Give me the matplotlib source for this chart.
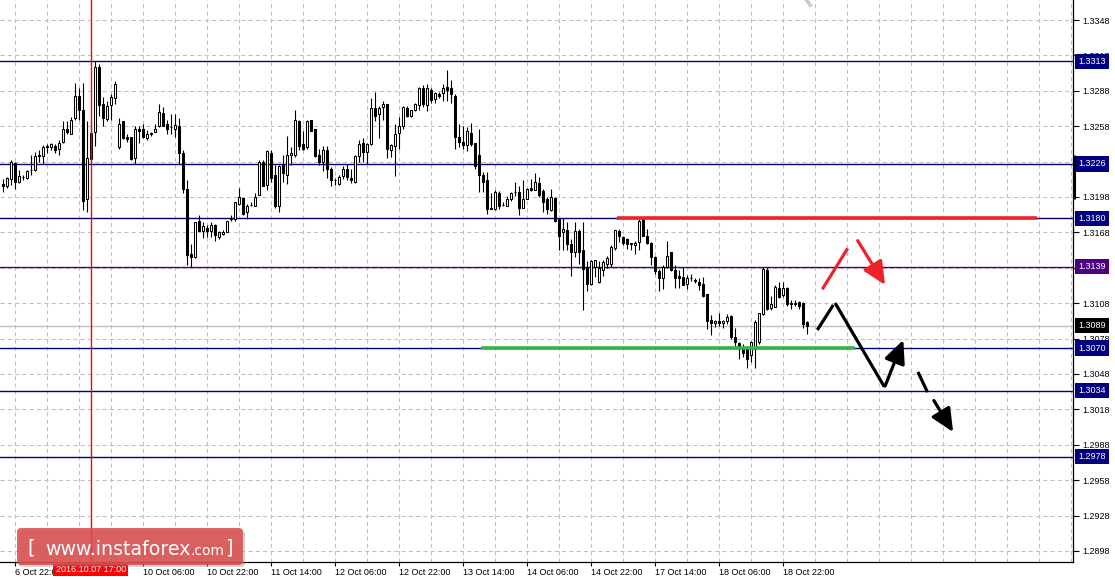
import matplotlib
matplotlib.use('Agg')
import matplotlib.pyplot as plt
import matplotlib.transforms as mtransforms
from matplotlib.patches import FancyBboxPatch, FancyArrowPatch
import numpy as np

# H1 candles, 6 Oct 19:00 .. 19 Oct 04:00
opens = [
    1.3209, 1.3207, 1.3213, 1.3227, 1.3211, 1.3215, 1.3214, 1.3221, 1.3221, 1.3234,
    1.3233, 1.3241, 1.3240, 1.3241, 1.3239, 1.3245, 1.3256, 1.3251, 1.3265, 1.3284,
    1.3272, 1.3196, 1.3230, 1.3253, 1.3308, 1.3277, 1.3264, 1.3276, 1.3282, 1.3240,
    1.3262, 1.3249, 1.3249, 1.3231, 1.3256, 1.3256, 1.3248, 1.3251, 1.3253, 1.3258,
    1.3269, 1.3260, 1.3257, 1.3256, 1.3258, 1.3235, 1.3205, 1.3150, 1.3147, 1.3178,
    1.3169, 1.3172, 1.3169, 1.3174, 1.3164, 1.3167, 1.3168, 1.3179, 1.3179, 1.3192,
    1.3197, 1.3185, 1.3191, 1.3190, 1.3200, 1.3228, 1.3208, 1.3235, 1.3217, 1.3190,
    1.3225, 1.3217, 1.3234, 1.3234, 1.3262, 1.3243, 1.3240, 1.3263, 1.3256, 1.3234,
    1.3228, 1.3238, 1.3222, 1.3212, 1.3209, 1.3216, 1.3222, 1.3214, 1.3211, 1.3233,
    1.3244, 1.3236, 1.3243, 1.3273, 1.3268, 1.3274, 1.3277, 1.3238, 1.3241, 1.3252,
    1.3258, 1.3273, 1.3267, 1.3272, 1.3276, 1.3290, 1.3276, 1.3289, 1.3281, 1.3285,
    1.3286, 1.3291, 1.3290, 1.3284, 1.3249, 1.3245, 1.3242, 1.3252, 1.3244, 1.3234,
    1.3217, 1.3212, 1.3189, 1.3188, 1.3201, 1.3191, 1.3190, 1.3196, 1.3202, 1.3202,
    1.3189, 1.3196, 1.3206, 1.3204, 1.3210, 1.3203, 1.3196, 1.3187, 1.3197, 1.3179,
    1.3168, 1.3170, 1.3158, 1.3151, 1.3169, 1.3153, 1.3139, 1.3124, 1.3139, 1.3126,
    1.3136, 1.3141, 1.3141, 1.3155, 1.3169, 1.3164, 1.3162, 1.3159, 1.3157, 1.3160,
    1.3180, 1.3165, 1.3159, 1.3147, 1.3135, 1.3129, 1.3139, 1.3151, 1.3136, 1.3131,
    1.3130, 1.3124, 1.3129, 1.3127, 1.3126, 1.3124, 1.3116, 1.3094, 1.3091, 1.3093,
    1.3091, 1.3093, 1.3097, 1.3079, 1.3074, 1.3071, 1.3069, 1.3064, 1.3069, 1.3075,
    1.3099, 1.3136, 1.3104, 1.3105, 1.3121, 1.3115, 1.3121, 1.3108, 1.3108, 1.3109,
    1.3108, 1.3092,
]
highs = [
    1.3213, 1.3215, 1.3229, 1.3228, 1.3221, 1.3217, 1.3221, 1.3234, 1.3236, 1.3238,
    1.3242, 1.3243, 1.3244, 1.3243, 1.3246, 1.3262, 1.3262, 1.3266, 1.3295, 1.3290,
    1.3295, 1.3262, 1.3262, 1.3313, 1.3311, 1.3283, 1.3279, 1.3285, 1.3296, 1.3265,
    1.3262, 1.3251, 1.3249, 1.3258, 1.3258, 1.3260, 1.3255, 1.3253, 1.3260, 1.3277,
    1.3274, 1.3263, 1.3268, 1.3268, 1.3265, 1.3238, 1.3212, 1.3158, 1.3177, 1.3183,
    1.3177, 1.3174, 1.3177, 1.3175, 1.3169, 1.3170, 1.3178, 1.3183, 1.3194, 1.3206,
    1.3197, 1.3192, 1.3194, 1.3201, 1.3229, 1.3229, 1.3238, 1.3238, 1.3225, 1.3225,
    1.3234, 1.3250, 1.3240, 1.3272, 1.3263, 1.3254, 1.3263, 1.3263, 1.3256, 1.3239,
    1.3241, 1.3241, 1.3223, 1.3214, 1.3217, 1.3224, 1.3226, 1.3222, 1.3234, 1.3246,
    1.3248, 1.3244, 1.3282, 1.3287, 1.3275, 1.3279, 1.3277, 1.3243, 1.3260, 1.3266,
    1.3275, 1.3275, 1.3272, 1.3278, 1.3291, 1.3293, 1.3294, 1.3290, 1.3287, 1.3287,
    1.3294, 1.3306, 1.3297, 1.3285, 1.3260, 1.3258, 1.3257, 1.3261, 1.3244, 1.3256,
    1.3219, 1.3219, 1.3201, 1.3204, 1.3203, 1.3194, 1.3199, 1.3202, 1.3211, 1.3207,
    1.3212, 1.3206, 1.3213, 1.3218, 1.3215, 1.3205, 1.3198, 1.3205, 1.3198, 1.3180,
    1.3180, 1.3177, 1.3162, 1.3177, 1.3171, 1.3177, 1.3144, 1.3145, 1.3145, 1.3144,
    1.3145, 1.3148, 1.3157, 1.3170, 1.3171, 1.3165, 1.3163, 1.3159, 1.3161, 1.3179,
    1.3181, 1.3171, 1.3160, 1.3148, 1.3137, 1.3140, 1.3161, 1.3151, 1.3140, 1.3136,
    1.3139, 1.3132, 1.3133, 1.3129, 1.3129, 1.3130, 1.3116, 1.3098, 1.3094, 1.3100,
    1.3094, 1.3099, 1.3098, 1.3087, 1.3075, 1.3073, 1.3070, 1.3076, 1.3094, 1.3100,
    1.3139, 1.3139, 1.3114, 1.3123, 1.3126, 1.3126, 1.3122, 1.3111, 1.3111, 1.3110,
    1.3109, 1.3093,
]
lows = [
    1.3202, 1.3206, 1.3208, 1.3205, 1.3210, 1.3212, 1.3213, 1.3217, 1.3220, 1.3228,
    1.3226, 1.3235, 1.3238, 1.3235, 1.3234, 1.3244, 1.3251, 1.3251, 1.3263, 1.3263,
    1.3187, 1.3185, 1.3225, 1.3241, 1.3267, 1.3258, 1.3262, 1.3263, 1.3277, 1.3239,
    1.3247, 1.3245, 1.3229, 1.3226, 1.3244, 1.3248, 1.3246, 1.3250, 1.3253, 1.3257,
    1.3258, 1.3251, 1.3251, 1.3249, 1.3226, 1.3201, 1.3140, 1.3139, 1.3146, 1.3169,
    1.3163, 1.3164, 1.3164, 1.3161, 1.3162, 1.3166, 1.3168, 1.3178, 1.3178, 1.3191,
    1.3183, 1.3179, 1.3190, 1.3190, 1.3200, 1.3207, 1.3204, 1.3211, 1.3189, 1.3185,
    1.3211, 1.3209, 1.3225, 1.3232, 1.3238, 1.3238, 1.3239, 1.3254, 1.3232, 1.3225,
    1.3220, 1.3214, 1.3207, 1.3208, 1.3208, 1.3213, 1.3212, 1.3210, 1.3210, 1.3228,
    1.3228, 1.3226, 1.3242, 1.3262, 1.3248, 1.3263, 1.3231, 1.3232, 1.3216, 1.3239,
    1.3256, 1.3266, 1.3266, 1.3271, 1.3272, 1.3274, 1.3271, 1.3278, 1.3278, 1.3282,
    1.3279, 1.3279, 1.3278, 1.3239, 1.3240, 1.3239, 1.3237, 1.3241, 1.3222, 1.3202,
    1.3202, 1.3184, 1.3188, 1.3187, 1.3188, 1.3190, 1.3190, 1.3195, 1.3199, 1.3183,
    1.3189, 1.3196, 1.3203, 1.3204, 1.3198, 1.3185, 1.3184, 1.3186, 1.3177, 1.3153,
    1.3153, 1.3153, 1.3131, 1.3147, 1.3141, 1.3102, 1.3118, 1.3123, 1.3130, 1.3125,
    1.3131, 1.3138, 1.3139, 1.3153, 1.3160, 1.3157, 1.3154, 1.3153, 1.3150, 1.3153,
    1.3165, 1.3158, 1.3140, 1.3133, 1.3118, 1.3120, 1.3138, 1.3135, 1.3121, 1.3121,
    1.3123, 1.3120, 1.3127, 1.3125, 1.3119, 1.3113, 1.3086, 1.3081, 1.3088, 1.3089,
    1.3087, 1.3090, 1.3078, 1.3072, 1.3061, 1.3062, 1.3053, 1.3058, 1.3053, 1.3073,
    1.3098, 1.3102, 1.3102, 1.3105, 1.3112, 1.3113, 1.3106, 1.3103, 1.3106, 1.3103,
    1.3087, 1.3082,
]
closes = [
    1.3207, 1.3214, 1.3228, 1.3211, 1.3216, 1.3215, 1.3220, 1.3221, 1.3233, 1.3233,
    1.3240, 1.3240, 1.3243, 1.3238, 1.3244, 1.3256, 1.3253, 1.3263, 1.3284, 1.3272,
    1.3195, 1.3231, 1.3252, 1.3308, 1.3276, 1.3265, 1.3275, 1.3283, 1.3294, 1.3260,
    1.3248, 1.3247, 1.3230, 1.3256, 1.3254, 1.3249, 1.3251, 1.3252, 1.3256, 1.3270,
    1.3258, 1.3256, 1.3257, 1.3259, 1.3235, 1.3205, 1.3149, 1.3147, 1.3177, 1.3169,
    1.3173, 1.3169, 1.3174, 1.3166, 1.3168, 1.3168, 1.3178, 1.3180, 1.3194, 1.3198,
    1.3184, 1.3190, 1.3191, 1.3198, 1.3228, 1.3207, 1.3237, 1.3214, 1.3190, 1.3224,
    1.3218, 1.3234, 1.3235, 1.3263, 1.3241, 1.3239, 1.3262, 1.3254, 1.3233, 1.3228,
    1.3238, 1.3222, 1.3212, 1.3212, 1.3215, 1.3222, 1.3215, 1.3212, 1.3233, 1.3243,
    1.3236, 1.3243, 1.3273, 1.3267, 1.3273, 1.3277, 1.3239, 1.3242, 1.3251, 1.3258,
    1.3274, 1.3267, 1.3272, 1.3277, 1.3290, 1.3277, 1.3290, 1.3280, 1.3286, 1.3284,
    1.3290, 1.3289, 1.3285, 1.3249, 1.3245, 1.3242, 1.3254, 1.3243, 1.3224, 1.3217,
    1.3211, 1.3188, 1.3188, 1.3202, 1.3190, 1.3191, 1.3196, 1.3201, 1.3202, 1.3189,
    1.3196, 1.3205, 1.3204, 1.3211, 1.3200, 1.3194, 1.3188, 1.3198, 1.3178, 1.3165,
    1.3171, 1.3158, 1.3151, 1.3169, 1.3151, 1.3137, 1.3124, 1.3144, 1.3145, 1.3138,
    1.3143, 1.3146, 1.3156, 1.3170, 1.3165, 1.3159, 1.3158, 1.3158, 1.3159, 1.3178,
    1.3165, 1.3159, 1.3147, 1.3135, 1.3129, 1.3139, 1.3148, 1.3136, 1.3129, 1.3129,
    1.3123, 1.3129, 1.3129, 1.3127, 1.3123, 1.3114, 1.3093, 1.3091, 1.3093, 1.3091,
    1.3093, 1.3096, 1.3079, 1.3075, 1.3071, 1.3066, 1.3061, 1.3075, 1.3092, 1.3100,
    1.3137, 1.3103, 1.3107, 1.3122, 1.3113, 1.3121, 1.3107, 1.3107, 1.3107, 1.3106,
    1.3090, 1.3089,
]

# time axis labels (candle index -> label); 7 Oct 14:00 sits under the cursor box
time_ticks = [3, 35, 51, 67, 83, 99, 115, 131, 147, 163, 179, 195]
time_labels = ['6 Oct 22:00', '10 Oct 06:00', '10 Oct 22:00', '11 Oct 14:00',
               '12 Oct 06:00', '12 Oct 22:00', '13 Oct 14:00', '14 Oct 06:00', '14 Oct 22:00',
               '17 Oct 14:00', '18 Oct 06:00', '18 Oct 22:00']
grid_bars = [3 + 8 * k for k in range(34)]
cursor_bar = 22
cursor_label = '2016.10.07 17:00'

# price scale (1.3228 and 1.3138 are hidden behind level boxes)
price_ticks = [1.2898, 1.2928, 1.2958, 1.2988, 1.3018, 1.3048, 1.3078, 1.3108,
               1.3138, 1.3168, 1.3198, 1.3228, 1.3258, 1.3288, 1.3318, 1.3348]
hidden_ticks = [1.3138, 1.3228]

# horizontal levels
levels = [1.3313, 1.3226, 1.3180, 1.3139, 1.3089, 1.3070, 1.3034, 1.2978]
level_line_colors = ['#000080', '#000080', '#000070', '#4B0082', '#C0C0C0', '#000080', '#000080', '#000080']
level_box_colors = ['#000080', '#000080', '#000080', '#4B0082', '#000000', '#000080', '#000080', '#000080']

# resistance / support segments (start bar, end bar, price)
resistance = (153.6, 258.6, 1.3180)
support = (119.6, 213.1, 1.3070)

# forecast paths (bar index, price)
red_up = [(204.9, 1.31198), (211.25, 1.31545)]
red_down = [(213.75, 1.31610), (220.6, 1.31234)]
black_up = [(203.65, 1.30853), (207.65, 1.31065)]
black_down = [(208.1, 1.31082), (220.4, 1.30372)]
black_rebound = [(220.6, 1.30378), (225.15, 1.30768)]
black_dash1 = [(228.8, 1.30497), (231.2, 1.30326)]
black_dash2 = [(232.8, 1.30255), (237.6, 1.29988)]

W, H = 1115, 579
fig = plt.figure(figsize=(W / 100, H / 100), dpi=100)
ax = fig.add_axes([0, 17 / H, 1073 / W, 562 / H])
ax.set_xlim(-0.675, 267.575)
ax.set_ylim(1.288867, 1.336495)

font = 'Liberation Sans'
fs = 6.5

# grid
for gx in grid_bars:
    ax.axvline(gx, color='#C0C0C0', lw=0.75, dashes=(4, 3), zorder=0)
for gy in price_ticks:
    ax.axhline(gy, color='#C0C0C0', lw=0.75, dashes=(4, 3), zorder=0)

# levels
for lv, c in zip(levels, level_line_colors):
    ax.axhline(lv, color=c, lw=1.0, zorder=1, snap=True)

# candles
o = np.array(opens)
h = np.array(highs)
l = np.array(lows)
c = np.array(closes)
x = np.arange(len(o))
ax.vlines(x, l, h, color='black', lw=0.8, zorder=3)
bottoms = np.minimum(o, c)
heights = np.maximum(np.abs(c - o), 0.00003)
body_colors = ['white' if cc >= oo else 'black' for oo, cc in zip(o, c)]
ax.bar(x, heights, width=0.55, bottom=bottoms, color=body_colors,
       edgecolor='black', linewidth=0.75, zorder=4)

# cursor line
ax.axvline(cursor_bar, color='#FF0000', lw=1.0, zorder=5, snap=True)

# resistance and support
ax.plot(resistance[:2], [resistance[2]] * 2, color='#E8262B', lw=2.6,
        solid_capstyle='butt', zorder=6)
ax.plot(support[:2], [support[2]] * 2, color='#35B34A', lw=2.6,
        solid_capstyle='butt', zorder=6)

# forecast arrows
def seg(path, color):
    xs, ys = zip(*path)
    ax.plot(xs, ys, color=color, lw=2.3, solid_capstyle='butt', zorder=7)

def arrow(path, color):
    p = FancyArrowPatch(path[0], path[1], arrowstyle='-|>,head_length=1.4,head_width=0.65',
                        mutation_scale=10, lw=2.3, color=color, shrinkA=0, shrinkB=0, zorder=7)
    ax.add_patch(p)

seg(red_up, '#EE2229')
arrow(red_down, '#EE2229')
seg(black_up, 'black')
seg(black_down, 'black')
arrow(black_rebound, 'black')
seg(black_dash1, 'black')
arrow(black_dash2, 'black')

# small grey object cut at the top edge
ax.plot([200.9, 201.9], [1.33652, 1.33605], color='#C8C8C8', lw=2.5, zorder=2)

# axes styling
for s in ['left', 'top']:
    ax.spines[s].set_visible(False)
for s in ['right', 'bottom']:
    ax.spines[s].set_color('black')
    ax.spines[s].set_linewidth(0.9)

ax.yaxis.tick_right()
ax.set_yticks(price_ticks)
ax.set_yticklabels(['' if t in hidden_ticks else '%.4f' % t for t in price_ticks],
                   fontsize=fs, family=font)
ax.tick_params(axis='y', length=4, width=0.8, pad=2.5, colors='black')
ax.set_xticks(time_ticks)
ax.set_xticklabels(time_labels, fontsize=fs, family=font, ha='left')
ax.tick_params(axis='x', length=3, width=0.8, pad=1, colors='black')

ymix = mtransforms.blended_transform_factory(ax.transAxes, ax.transData)
for lv, bc in zip(levels, level_box_colors):
    ax.text(1.0 + 5 / 1073, lv, '%.4f' % lv, transform=ymix, ha='left', va='center',
            color='white', fontsize=fs, family=font, zorder=10, clip_on=False,
            bbox=dict(boxstyle='square,pad=0.35', fc=bc, ec='none'))

# price scale marker
ax.plot([1.0 + 1 / 1073] * 2, [1.3234, 1.3196], transform=ymix, color='black', lw=2.2,
        clip_on=False, zorder=10, solid_capstyle='butt')

xmix = mtransforms.blended_transform_factory(ax.transData, ax.transAxes)
ax.text(cursor_bar, -7 / 562, cursor_label, transform=xmix, ha='center', va='center',
        color='white', fontsize=fs, family=font, zorder=10, clip_on=False,
        bbox=dict(boxstyle='square,pad=0.25', fc='#FF0000', ec='none'))

# watermark
tr = fig.dpi_scale_trans
shadow = FancyBboxPatch((0.19, 0.12), 2.26, 0.37, boxstyle='round,pad=0,rounding_size=0.04',
                        transform=tr, fc='#888888', ec='none', alpha=0.35)
fig.add_artist(shadow)
box = FancyBboxPatch((0.17, 0.14), 2.26, 0.37, boxstyle='round,pad=0,rounding_size=0.04',
                     transform=tr, fc='#DB4C4C', ec='none', alpha=0.85)
fig.add_artist(box)
fig.text(0.31, 0.31, '[', transform=tr, color='white', fontsize=14, family='DejaVu Sans',
         ha='center', va='center')
t1 = fig.text(0.45, 0.24, 'www.instaforex', transform=tr, color='white', fontsize=13.7,
              family='DejaVu Sans', ha='left', va='baseline')
fig.canvas.draw()
bb = t1.get_window_extent()
fig.text(bb.x1 / 100, 0.24, '.com', transform=tr, color='white', fontsize=10,
         family='DejaVu Sans', ha='left', va='baseline')
fig.text(2.29, 0.31, ']', transform=tr, color='white', fontsize=14, family='DejaVu Sans',
         ha='center', va='center')

fig.savefig('out.png', dpi=100, facecolor='white')
